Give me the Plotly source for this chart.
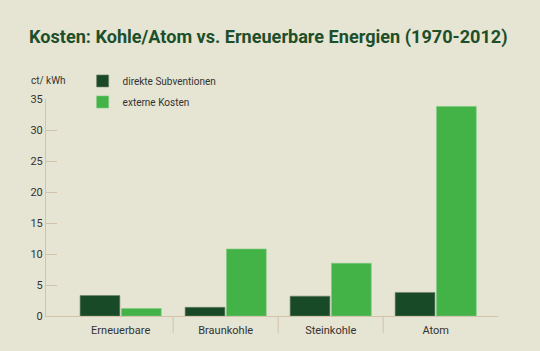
import plotly.graph_objects as go

categories = ["Erneuerbare", "Braunkohle", "Steinkohle", "Atom"]
direkte_subventionen = [3.3, 1.4, 3.2, 3.8]
externe_kosten = [1.2, 10.8, 8.5, 33.8]
y_ticks = [0, 5, 10, 15, 20, 25, 30, 35]

BG = "#e6e4d2"
DARK = "#184a27"
LIGHT = "#43b347"
AXIS = "#d3c3aa"
TXT = "#333333"
FONT = "Roboto"

fig = go.Figure()
fig.add_trace(go.Bar(x=categories, y=direkte_subventionen, name="direkte Subventionen",
                     marker=dict(color=DARK, line=dict(color="#6b7f6b", width=0.6)),
                     legendgroup="a"))
fig.add_trace(go.Bar(x=categories, y=externe_kosten, name="externe Kosten",
                     marker=dict(color=LIGHT, line=dict(color="#7cc97e", width=0.6)),
                     legendgroup="b"))

shapes = []
for i in range(len(categories) - 1):
    shapes.append(dict(type="line", xref="x", yref="paper", x0=i + 0.5, x1=i + 0.5,
                       y0=0, y1=-0.078, line=dict(color=AXIS, width=1)))

fig.update_layout(
    width=540, height=351,
    paper_bgcolor=BG, plot_bgcolor=BG,
    margin=dict(l=46, r=42, t=99, b=35),
    barmode="group", bargap=0.212, bargroupgap=0.04,
    font=dict(family=FONT, color=TXT, size=11),
    title=dict(text="<b>Kosten: Kohle/Atom vs. Erneuerbare Energien (1970-2012)</b>",
               font=dict(family=FONT, size=18.1, color="#1d4f2b"),
               x=29 / 540, xanchor="left", xref="container",
               y=1 - 37 / 351, yanchor="middle", yref="container"),
    legend=dict(x=0.081, y=1.15, xanchor="left", yanchor="top", bgcolor="rgba(0,0,0,0)",
                font=dict(size=10, color=TXT), traceorder="grouped", tracegroupgap=2,
                itemclick=False),
    shapes=shapes,
    annotations=[dict(text="ct/ kWh", xref="paper", yref="paper", x=-0.0376, y=1.083,
                      xanchor="left", yanchor="middle", showarrow=False,
                      font=dict(size=10, color=TXT))],
    xaxis=dict(range=[-0.711, 3.593], showline=True, linecolor=AXIS, linewidth=1,
               ticks="", showgrid=False, zeroline=False, tickfont=dict(size=11, color=TXT),
               ticklabelstandoff=4, fixedrange=True),
    yaxis=dict(range=[0, 35], tickvals=y_ticks, showline=True, linecolor=AXIS, linewidth=1,
               ticks="inside", ticklen=11, tickcolor=AXIS, tickwidth=1, showgrid=False,
               zeroline=False, tickfont=dict(size=11, color=TXT), fixedrange=True),
)

fig.write_html("out.html")
